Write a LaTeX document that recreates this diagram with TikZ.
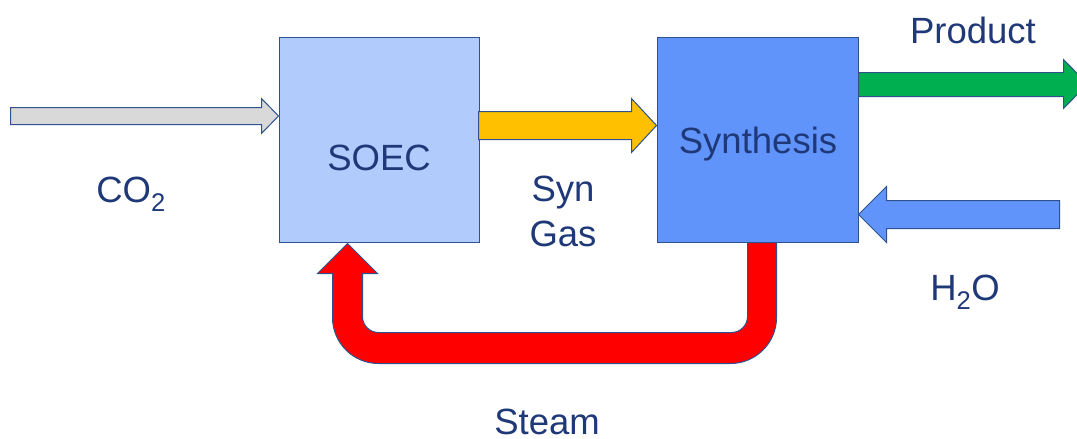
\documentclass[tikz,border=0pt]{standalone}
\usepackage{fontspec}
\setmainfont{Liberation Sans}
\usetikzlibrary{positioning,calc}

\definecolor{textblue}{RGB}{31,56,120}
\definecolor{edgeblue}{RGB}{47,82,143}
\definecolor{soecfill}{RGB}{176,203,252}
\definecolor{synfill}{RGB}{97,148,250}
\definecolor{co2gray}{RGB}{217,217,217}
\definecolor{gasyellow}{RGB}{255,192,0}
\definecolor{prodgreen}{RGB}{0,176,80}
\definecolor{steamred}{RGB}{255,0,0}

\begin{document}
\begin{tikzpicture}[x=1pt,y=-1pt,
  unit/.style={draw=edgeblue,line width=1pt,minimum width=200pt,minimum height=205pt,inner sep=0pt},
  flow/.style={draw=edgeblue,line width=1pt,line join=miter},
  lbl/.style={text=textblue,font=\fontsize{36.5}{44}\selectfont,inner sep=0pt,anchor=base}]
  \clip (0,0) rectangle (1077,439);

  % Units
  \node[unit,fill=soecfill] (soec) at (379,139.5) {};
  \node[unit,fill=synfill,minimum width=201pt] (syn) at (757.5,139.5) {};

  % Arrow tips and free ends
  \coordinate (co2tip) at ($(soec.north west)+(0,79.5)$);
  \coordinate (gastip) at ($(syn.north west)+(0,89)$);
  \coordinate (prodout) at ($(syn.north east)+(0,36)$);
  \coordinate (h2otip) at ($(syn.north east)+(0,178)$);
  \coordinate (steamout) at ($(syn.south west)+(120,0)$);

  % CO2 feed
  \draw[flow,fill=co2gray] (co2tip) -- ++(-17,-17.5) -- ++(0,9) -- ++(-251,0)
    -- ++(0,17) -- ++(251,0) -- ++(0,9) -- cycle;

  % Syn gas
  \draw[flow,fill=gasyellow] (gastip) -- ++(-25,-27) -- ++(0,13) -- ++(-153,0)
    -- ++(0,28) -- ++(153,0) -- ++(0,13) -- cycle;

  % Product
  \draw[flow,fill=prodgreen] (prodout) -- ++(205,0) -- ++(0,-13) -- ++(24,24.5)
    -- ++(-24,24.5) -- ++(0,-12) -- ++(-205,0) -- cycle;

  % Water feed
  \draw[flow,fill=synfill] (h2otip) -- ++(28,-28) -- ++(0,14) -- ++(173,0)
    -- ++(0,28) -- ++(-173,0) -- ++(0,14) -- cycle;

  % Steam loop back to SOEC
  \draw[flow,fill=steamred] (steamout) [rounded corners=46pt] -- ++(0,121) -- ++(-444,0)
    [sharp corners] -- ++(0,-90) -- ++(-15,0) -- ++(30,-30) -- ++(30,30) -- ++(-15,0)
    [rounded corners=16pt] -- ++(0,59) -- ++(385,0) [sharp corners] -- ++(0,-90) -- cycle;

  % Labels
  \node[lbl] (co2lbl) at (131,202) {CO\textsubscript{2}};
  \node[lbl] (soectxt) at (379,170) {SOEC};
  \node[lbl] (syntxt) at (758,153) {Synthesis};
  \node[lbl] (synlbl) at (563,201) {Syn};
  \node[lbl] (gaslbl) at (563,246) {Gas};
  \node[lbl] (prodlbl) at (973,43) {Product};
  \node[lbl] (h2olbl) at (965,300) {H\textsubscript{2}O};
  \node[lbl] (steamlbl) at (547,434) {Steam};
\end{tikzpicture}
\end{document}
